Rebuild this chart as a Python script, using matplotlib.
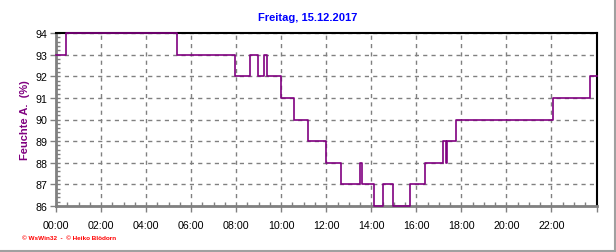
import numpy as np
import matplotlib
matplotlib.use("Agg")
import matplotlib.pyplot as plt
from matplotlib.ticker import MultipleLocator, FuncFormatter
from matplotlib.lines import Line2D

# humidity change points (hours since midnight, %)
hours = [0.0, 0.45, 5.38, 7.97, 8.6, 8.98, 9.22, 9.35, 10.0, 10.58, 11.18,
         12.0, 12.67, 13.5, 13.6, 14.1, 14.5, 14.95, 15.7, 16.38, 17.2,
         17.3, 17.36, 17.78, 22.05, 23.72, 24.0]
humidity = [93, 94, 93, 92, 93, 92, 93, 92, 91, 90, 89,
            88, 87, 88, 87, 86, 87, 86, 87, 88, 89,
            88, 89, 90, 91, 92, 92]

title = "Freitag, 15.12.2017"
ylabel = "Feuchte A.  (%)"
footer = "\u00a9 WsWin32  -  \u00a9 Heiko Blödorn"

plt.rcParams['font.family'] = ['Liberation Sans', 'DejaVu Sans']

fig = plt.figure(figsize=(6.16, 2.53), dpi=100)
ax = fig.add_axes([56 / 616, 1 - 207 / 253, 540.5 / 616, 173 / 253])

ax.plot(hours, humidity, drawstyle='steps-post', color='#800080', lw=1.2,
        clip_on=False, zorder=3)

ax.set_xlim(0, 24)
ax.set_ylim(86, 94)
ax.xaxis.set_major_locator(MultipleLocator(2))
ax.xaxis.set_minor_locator(MultipleLocator(0.5))
ax.yaxis.set_major_locator(MultipleLocator(1))
ax.yaxis.set_minor_locator(MultipleLocator(0.2))
ax.xaxis.set_major_formatter(FuncFormatter(lambda v, p: "%02d:00" % int(round(v)) if v < 24 else ""))

ax.grid(True, which='major', color='#808080', ls=(0, (3, 3)), lw=1)
ax.tick_params(axis='both', which='major', labelsize=7.7, length=4, width=1,
               color='#808080', direction='out')
ax.tick_params(axis='x', which='minor', length=3, width=1, color='#808080', direction='in')
ax.tick_params(axis='y', which='minor', length=3, width=1, color='#808080', direction='in')
ax.tick_params(axis='x', pad=6)
ax.tick_params(axis='y', pad=2)

for s in ['left', 'bottom']:
    ax.spines[s].set_color('#808080')
    ax.spines[s].set_linewidth(2)
for s in ['top', 'right']:
    ax.spines[s].set_color('black')
    ax.spines[s].set_linewidth(1.5)

fig.text(0.5, 1 - 18 / 253, title, ha='center', va='center', color='#0000ff',
         fontsize=8, fontweight='bold')
fig.text(25 / 616, 1 - 120 / 253, ylabel, ha='center', va='center', rotation=90,
         color='#800080', fontsize=8, fontweight='bold')
fig.text(22 / 616, 1 - 239 / 253, footer, ha='left', va='center', color='#ff0000',
         fontsize=4.6, fontweight='bold')

# outer frame (right and bottom)
fig.add_artist(Line2D([614.5 / 616, 614.5 / 616], [1 - 252 / 253, 1], color='#a0a0a0', lw=1.5))
fig.add_artist(Line2D([0, 614.5 / 616], [1 - 251.5 / 253, 1 - 251.5 / 253], color='#a0a0a0', lw=1.5))

fig.savefig("out.png", dpi=100)
